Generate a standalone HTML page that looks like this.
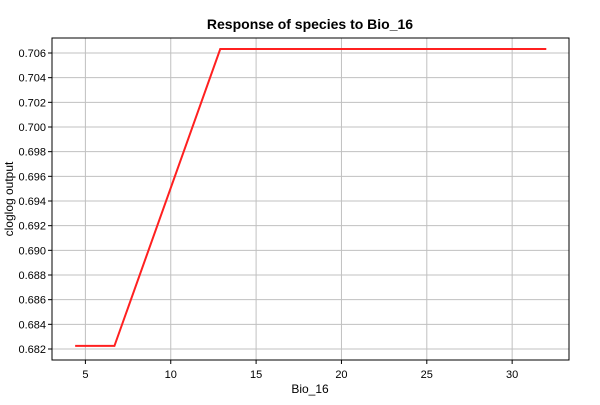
<!DOCTYPE html>
<html><head><meta charset="utf-8"><style>
body{margin:0;background:#fff;font-family:"Liberation Sans",sans-serif;}
svg text{font-family:"Liberation Sans",sans-serif;}
</style></head><body>
<svg width="600" height="400">
<rect width="600" height="400" fill="#fff"/>
<text x="310" y="29" text-anchor="middle" font-size="14" font-weight="bold">Response of species to Bio_16</text>
<g id="grid"></g>
<rect x="52" y="38" width="517" height="322" fill="none" stroke="#000" stroke-width="1"/>
<g id="series"></g>
<text x="310" y="393" text-anchor="middle" font-size="12">Bio_16</text>
<text transform="translate(13,199) rotate(-90)" text-anchor="middle" font-size="12">cloglog output</text>
</svg>
<script>
const xTicks=[5,10,15,20,25,30];
const yTicks=[0.682,0.684,0.686,0.688,0.690,0.692,0.694,0.696,0.698,0.700,0.702,0.704,0.706];
const xVals=[4.4,6.7,12.9,32];
const yVals=[0.68225,0.68225,0.70632,0.70632];
const ns="http://www.w3.org/2000/svg";
const xs=v=>85.4+(v-5)*17.07;
const ys=v=>349-(v-0.682)/0.024*296;
const g=document.getElementById('grid');
xTicks.forEach(t=>{
 const l=document.createElementNS(ns,'line');
 l.setAttribute('x1',xs(t));l.setAttribute('x2',xs(t));l.setAttribute('y1',38);l.setAttribute('y2',360);
 l.setAttribute('stroke','#c0c0c0');
 
 
 g.appendChild(l);
 const tk=document.createElementNS(ns,'line');
 tk.setAttribute('x1',xs(t));tk.setAttribute('x2',xs(t));tk.setAttribute('y1',360);tk.setAttribute('y2',364);tk.setAttribute('stroke','#000');
 
 
 g.appendChild(tk);
 const tx=document.createElementNS(ns,'text');
 tx.setAttribute('x',xs(t));tx.setAttribute('y',378);tx.setAttribute('text-anchor','middle');tx.setAttribute('font-size','11');
 tx.textContent=t;
 
 
 g.appendChild(tx);
});
yTicks.forEach(t=>{
 const l=document.createElementNS(ns,'line');
 l.setAttribute('x1',52);l.setAttribute('x2',569);l.setAttribute('y1',ys(t));l.setAttribute('y2',ys(t));
 l.setAttribute('stroke','#c0c0c0');
 
 
 g.appendChild(l);
 const tk=document.createElementNS(ns,'line');
 tk.setAttribute('x1',48);tk.setAttribute('x2',52);tk.setAttribute('y1',ys(t));tk.setAttribute('y2',ys(t));tk.setAttribute('stroke','#000');
 
 
 g.appendChild(tk);
 const tx=document.createElementNS(ns,'text');
 tx.setAttribute('x',46);tx.setAttribute('y',ys(t)+4);tx.setAttribute('text-anchor','end');tx.setAttribute('font-size','11');
 tx.textContent=t.toFixed(3);
 
 
 g.appendChild(tx);
});
const p=document.createElementNS(ns,'polyline');
p.setAttribute('points',xVals.map((v,i)=>xs(v)+','+ys(yVals[i])).join(' '));
p.setAttribute('fill','none');p.setAttribute('stroke','#ff2020');p.setAttribute('stroke-width','2');


document.getElementById('series').appendChild(p);
</script>
</body></html>
